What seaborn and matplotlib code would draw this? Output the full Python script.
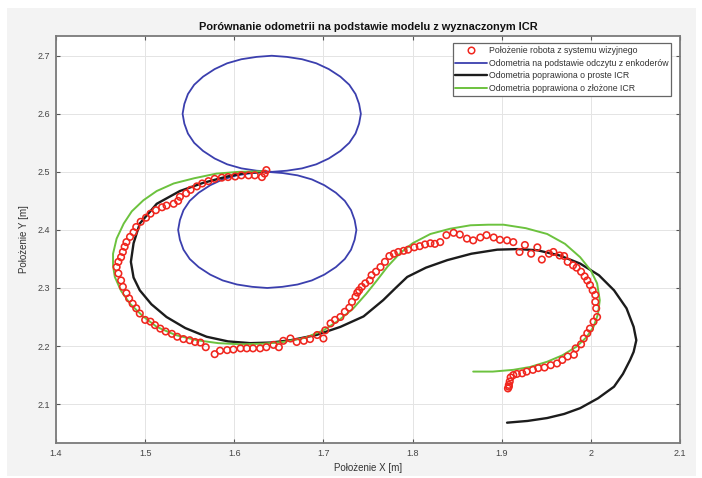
import matplotlib
matplotlib.use("Agg")
import matplotlib.pyplot as plt
from matplotlib.lines import Line2D
from matplotlib.patches import Rectangle
import seaborn as sns
import pandas as pd

# ---------------- data ----------------
title = "Porównanie odometrii na podstawie modelu z wyznaczonym ICR"
xlabel = "Położenie X [m]"
ylabel = "Położenie Y [m]"
legend_labels = [
    "Położenie robota z systemu wizyjnego",
    "Odometria na podstawie odczytu z enkoderów",
    "Odometria poprawiona o proste ICR",
    "Odometria poprawiona o złożone ICR",
]
xticks = [1.4, 1.5, 1.6, 1.7, 1.8, 1.9, 2.0, 2.1]
xtick_labels = ["1.4", "1.5", "1.6", "1.7", "1.8", "1.9", "2", "2.1"]
yticks = [2.1, 2.2, 2.3, 2.4, 2.5, 2.6, 2.7]
ytick_labels = ["2.1", "2.2", "2.3", "2.4", "2.5", "2.6", "2.7"]

vision_x = [1.636, 1.634, 1.631, 1.623, 1.616, 1.608, 1.601, 1.593, 1.586, 1.578,
            1.571, 1.564, 1.558, 1.551, 1.546, 1.539, 1.537, 1.532, 1.524, 1.519,
            1.512, 1.506, 1.501, 1.495, 1.490, 1.487, 1.483, 1.479, 1.477, 1.475,
            1.473, 1.470, 1.468, 1.470, 1.473, 1.475, 1.479, 1.482, 1.486, 1.490,
            1.494, 1.500, 1.506, 1.511, 1.517, 1.523, 1.530, 1.536, 1.543, 1.550,
            1.556, 1.562, 1.568, 1.578, 1.584, 1.592, 1.599, 1.607, 1.614, 1.621,
            1.629, 1.636, 1.644, 1.650, 1.655, 1.663, 1.670, 1.678, 1.685, 1.693,
            1.700, 1.702, 1.708, 1.713, 1.719, 1.724, 1.729, 1.732, 1.736, 1.738,
            1.740, 1.743, 1.747, 1.752, 1.754, 1.759, 1.764, 1.769, 1.774, 1.779,
            1.784, 1.790, 1.795, 1.802, 1.808, 1.814, 1.820, 1.825, 1.831, 1.838,
            1.846, 1.853, 1.861, 1.868, 1.876, 1.883, 1.891, 1.898, 1.906, 1.913,
            1.920, 1.926, 1.933, 1.940, 1.945, 1.953, 1.958, 1.965, 1.970, 1.974,
            1.980, 1.984, 1.989, 1.993, 1.996, 1.999, 2.002, 2.005, 2.005, 2.006,
            2.007, 2.003, 1.999, 1.996, 1.992, 1.989, 1.983, 1.981, 1.974, 1.968,
            1.962, 1.955, 1.948, 1.941, 1.935, 1.928, 1.923, 1.917, 1.913, 1.910,
            1.909, 1.908, 1.908, 1.907]
vision_y = [2.503, 2.497, 2.491, 2.494, 2.494, 2.494, 2.492, 2.491, 2.490, 2.488,
            2.484, 2.480, 2.475, 2.469, 2.463, 2.457, 2.450, 2.445, 2.442, 2.439,
            2.434, 2.428, 2.421, 2.414, 2.405, 2.396, 2.388, 2.379, 2.371, 2.362,
            2.353, 2.345, 2.336, 2.325, 2.313, 2.302, 2.291, 2.282, 2.273, 2.265,
            2.256, 2.245, 2.242, 2.236, 2.230, 2.225, 2.221, 2.216, 2.212, 2.210,
            2.207, 2.206, 2.198, 2.186, 2.192, 2.193, 2.194, 2.196, 2.196, 2.196,
            2.196, 2.198, 2.202, 2.198, 2.209, 2.213, 2.207, 2.209, 2.212, 2.219,
            2.213, 2.227, 2.239, 2.245, 2.250, 2.259, 2.266, 2.276, 2.285, 2.292,
            2.296, 2.302, 2.308, 2.313, 2.322, 2.328, 2.336, 2.345, 2.355, 2.359,
            2.362, 2.364, 2.366, 2.370, 2.372, 2.375, 2.377, 2.376, 2.379, 2.391,
            2.395, 2.392, 2.385, 2.382, 2.387, 2.391, 2.387, 2.383, 2.382, 2.379,
            2.362, 2.374, 2.359, 2.370, 2.349, 2.359, 2.362, 2.356, 2.355, 2.345,
            2.339, 2.335, 2.328, 2.320, 2.313, 2.305, 2.296, 2.288, 2.276, 2.265,
            2.250, 2.242, 2.230, 2.222, 2.213, 2.203, 2.196, 2.185, 2.182, 2.176,
            2.170, 2.167, 2.163, 2.162, 2.159, 2.156, 2.153, 2.152, 2.150, 2.146,
            2.139, 2.133, 2.130, 2.127]

encoder_x = [1.637, 1.620, 1.603, 1.587, 1.573, 1.560, 1.550, 1.543, 1.539, 1.537,
             1.539, 1.543, 1.550, 1.560, 1.573, 1.587, 1.603, 1.620, 1.637, 1.654,
             1.671, 1.687, 1.701, 1.714, 1.724, 1.731, 1.735, 1.737, 1.735, 1.731,
             1.724, 1.714, 1.701, 1.687, 1.671, 1.654, 1.637,
             1.642, 1.625, 1.608, 1.592, 1.578, 1.565, 1.555, 1.548, 1.544, 1.542,
             1.544, 1.548, 1.555, 1.565, 1.578, 1.592, 1.608, 1.625, 1.642, 1.659,
             1.676, 1.692, 1.706, 1.719, 1.729, 1.736, 1.740, 1.742, 1.740, 1.736,
             1.729, 1.719, 1.706, 1.692, 1.676, 1.659, 1.642]
encoder_y = [2.500, 2.498, 2.494, 2.487, 2.477, 2.464, 2.450, 2.434, 2.417, 2.400,
             2.383, 2.366, 2.350, 2.336, 2.323, 2.313, 2.306, 2.302, 2.300, 2.302,
             2.306, 2.313, 2.323, 2.336, 2.350, 2.366, 2.383, 2.400, 2.417, 2.434,
             2.450, 2.464, 2.477, 2.487, 2.494, 2.498, 2.500,
             2.500, 2.502, 2.506, 2.513, 2.523, 2.536, 2.550, 2.566, 2.583, 2.600,
             2.617, 2.634, 2.650, 2.664, 2.677, 2.687, 2.694, 2.698, 2.700, 2.698,
             2.694, 2.687, 2.677, 2.664, 2.650, 2.634, 2.617, 2.600, 2.583, 2.566,
             2.550, 2.536, 2.523, 2.513, 2.506, 2.502, 2.500]

simple_icr_x = [1.633, 1.612, 1.592, 1.565, 1.539, 1.513, 1.494, 1.487, 1.484, 1.487,
                1.494, 1.507, 1.524, 1.545, 1.569, 1.593, 1.618, 1.641, 1.663, 1.692,
                1.719, 1.745, 1.767, 1.781, 1.794, 1.815, 1.839, 1.866, 1.895, 1.918,
                1.940, 1.965, 1.988, 2.009, 2.026, 2.040, 2.048, 2.051, 2.048, 2.044,
                2.036, 2.026, 2.008, 1.988, 1.970, 1.951, 1.929, 1.906]
simple_icr_y = [2.500, 2.498, 2.492, 2.481, 2.467, 2.445, 2.411, 2.377, 2.345, 2.318,
                2.296, 2.272, 2.250, 2.231, 2.216, 2.208, 2.205, 2.206, 2.210, 2.219,
                2.233, 2.251, 2.279, 2.300, 2.319, 2.335, 2.348, 2.359, 2.366, 2.367,
                2.365, 2.356, 2.342, 2.322, 2.296, 2.265, 2.233, 2.210, 2.190, 2.176,
                2.152, 2.130, 2.110, 2.093, 2.083, 2.076, 2.071, 2.068]

complex_icr_x = [1.633, 1.605, 1.580, 1.555, 1.532, 1.513, 1.498, 1.485, 1.476, 1.468,
                 1.464, 1.464, 1.466, 1.473, 1.483, 1.497, 1.513, 1.534, 1.558, 1.582,
                 1.607, 1.632, 1.655, 1.679, 1.700, 1.717, 1.733, 1.748, 1.760, 1.772,
                 1.786, 1.800, 1.820, 1.842, 1.865, 1.885, 1.902, 1.927, 1.951, 1.971,
                 1.988, 2.000, 2.007, 2.010, 2.008, 2.003, 1.995, 1.984, 1.968, 1.951,
                 1.932, 1.913, 1.890, 1.868]
complex_icr_y = [2.501, 2.500, 2.497, 2.489, 2.480, 2.467, 2.451, 2.432, 2.411, 2.385,
                 2.359, 2.338, 2.319, 2.295, 2.273, 2.252, 2.233, 2.219, 2.210, 2.205,
                 2.203, 2.204, 2.207, 2.214, 2.227, 2.244, 2.264, 2.290, 2.313, 2.337,
                 2.360, 2.377, 2.393, 2.402, 2.408, 2.409, 2.409, 2.403, 2.393, 2.376,
                 2.353, 2.330, 2.308, 2.279, 2.255, 2.233, 2.215, 2.199, 2.184, 2.173,
                 2.164, 2.159, 2.156, 2.156]

# ---------------- styling ----------------
sns.set_theme(style="whitegrid")
plt.rcParams["font.family"] = ["Liberation Sans", "DejaVu Sans"]

c_red = "#f0261e"
c_blue = "#3b3fae"
c_black = "#1c1c1c"
c_green = "#6cc23e"

fig = plt.figure(figsize=(7.02, 4.78), dpi=100)
fig.patch.set_facecolor("white")
fig.patches.append(Rectangle((7 / 702, 1 - 476 / 478), 689 / 702, 468 / 478,
                             transform=fig.transFigure, facecolor="#f3f3f3",
                             edgecolor="none", zorder=-10))
ax = fig.add_axes([56 / 702, 1 - 443 / 478, 624 / 702, 407 / 478])
ax.set_facecolor("white")

df_enc = pd.DataFrame({"x": encoder_x, "y": encoder_y})
df_s = pd.DataFrame({"x": simple_icr_x, "y": simple_icr_y})
df_c = pd.DataFrame({"x": complex_icr_x, "y": complex_icr_y})
df_v = pd.DataFrame({"x": vision_x, "y": vision_y})

sns.lineplot(data=df_enc, x="x", y="y", sort=False, estimator=None, ax=ax,
             color=c_blue, linewidth=1.3, zorder=2)
sns.lineplot(data=df_s, x="x", y="y", sort=False, estimator=None, ax=ax,
             color=c_black, linewidth=1.7, zorder=2)
sns.lineplot(data=df_c, x="x", y="y", sort=False, estimator=None, ax=ax,
             color=c_green, linewidth=1.4, zorder=3)
sns.scatterplot(data=df_v, x="x", y="y", ax=ax, marker="o", s=22,
                edgecolor=c_red, linewidth=1.15, zorder=4)
for coll in ax.collections:
    coll.set_facecolor("none")
    coll.set_edgecolor(c_red)

ax.set_xlim(1.4, 2.1)
ax.set_ylim(2.033, 2.734)
ax.set_xticks(xticks)
ax.set_xticklabels(xtick_labels)
ax.set_yticks(yticks)
ax.set_yticklabels(ytick_labels)
ax.grid(True, color="#e4e4e4", linewidth=0.7)
ax.tick_params(axis="both", which="major", direction="in", length=3, width=0.8,
               color="#555555", labelsize=6.5, labelcolor="#444444",
               top=True, right=True, bottom=True, left=True, pad=4)
for sp in ax.spines.values():
    sp.set_visible(True)
    sp.set_color("#7a7a7a")
    sp.set_linewidth(1.3)

ax.set_title(title, fontsize=7.9, fontweight="bold", color="#111111", pad=4)
ax.set_xlabel(xlabel, fontsize=7, color="#333333", labelpad=4)
ax.set_ylabel(ylabel, fontsize=7, color="#333333", labelpad=6)

handles = [
    Line2D([], [], linestyle="none", marker="o", markersize=4.7,
           markerfacecolor="none", markeredgecolor=c_red, markeredgewidth=1.1),
    Line2D([], [], color=c_blue, linewidth=1.3),
    Line2D([], [], color=c_black, linewidth=1.7),
    Line2D([], [], color=c_green, linewidth=1.4),
]
leg = ax.legend(handles, legend_labels, loc="upper right",
                bbox_to_anchor=(0.986, 0.982), borderaxespad=0,
                fontsize=6.35, frameon=True, fancybox=False, framealpha=1,
                edgecolor="#666666", handlelength=3.6, handletextpad=0.2,
                labelspacing=0.42, borderpad=0.3)
leg.get_frame().set_linewidth(0.9)
for t in leg.get_texts():
    t.set_color("#333333")

fig.savefig("out.png", dpi=100)
